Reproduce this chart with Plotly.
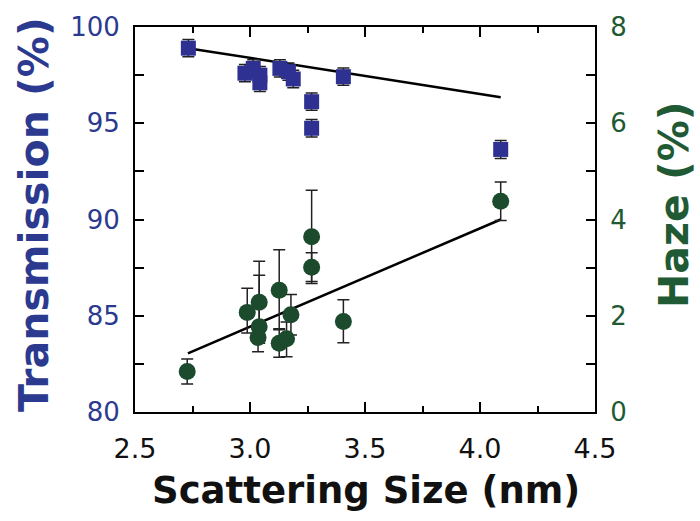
import plotly.graph_objects as go

# Transmission data (left axis)
trans_x = [2.732, 2.978, 3.014, 3.043, 3.043, 3.13, 3.167, 3.188, 3.268, 3.268, 3.406, 4.09]
trans_y = [98.9, 97.6, 97.85, 97.5, 97.1, 97.85, 97.68, 97.3, 96.12, 94.74, 97.42, 93.64]
trans_err = [0.45, 0.45, 0.45, 0.45, 0.45, 0.45, 0.45, 0.45, 0.45, 0.45, 0.45, 0.47]

# Haze data (right axis)
haze_x = [2.727, 2.988, 3.04, 3.04, 3.035, 3.127, 3.127, 3.159, 3.178, 3.268, 3.268, 3.406, 4.09]
haze_y = [0.84, 2.07, 2.28, 1.77, 1.55, 2.53, 1.43, 1.52, 2.02, 3.64, 3.01, 1.88, 4.38]
haze_err_plus = [0.26, 0.5, 0.85, 1.07, 0.3, 0.84, 0.3, 0.35, 0.42, 0.97, 0.3, 0.45, 0.4]
haze_err_minus = [0.26, 0.43, 0.85, 0.3, 0.3, 0.82, 0.29, 0.37, 0.42, 0.97, 0.3, 0.44, 0.4]

# Linear fit lines
fit_x = [2.73, 4.09]
trans_fit = [98.9, 96.35]
haze_fit = [1.22, 4.0]

# Tick labels
x_ticks = [2.5, 3.0, 3.5, 4.0, 4.5]
x_ticktext = ["2.5", "3.0", "3.5", "4.0", "4.5"]
y1_ticks = [80, 85, 90, 95, 100]
y2_ticks = [0, 2, 4, 6, 8]

BLUE = "#2e3192"
BLUE_TXT = "#2b3a8f"
GREEN = "#1b4a2c"
GREEN_TXT = "#1f5a34"
FONT = "DejaVu Sans"

fig = go.Figure()

fig.add_trace(go.Scatter(x=fit_x, y=trans_fit, mode="lines",
                         line=dict(color="black", width=2.5), showlegend=False))
fig.add_trace(go.Scatter(x=fit_x, y=haze_fit, mode="lines", yaxis="y2",
                         line=dict(color="black", width=2.5), showlegend=False))

fig.add_trace(go.Scatter(
    x=haze_x, y=haze_y, mode="markers", yaxis="y2", showlegend=False,
    marker=dict(symbol="circle", size=17, color=GREEN, line=dict(width=0)),
    error_y=dict(type="data", array=haze_err_plus, arrayminus=haze_err_minus,
                 color="#222222", thickness=1.5, width=6)))

fig.add_trace(go.Scatter(
    x=trans_x, y=trans_y, mode="markers", showlegend=False,
    marker=dict(symbol="square", size=15, color=BLUE, line=dict(width=0)),
    error_y=dict(type="data", array=trans_err, color="#222222",
                 thickness=1.5, width=6)))

fig.update_layout(
    width=700, height=521,
    margin=dict(l=135, r=105, t=27, b=109),
    paper_bgcolor="white", plot_bgcolor="white",
    font=dict(family=FONT),
    xaxis=dict(range=[2.5, 4.5], tickvals=x_ticks, ticktext=x_ticktext,
               ticks="inside", ticklen=10, tickwidth=2, tickcolor="black",
               minor=dict(dtick=0.25, ticks="inside", ticklen=6, tickwidth=2, tickcolor="black"),
               showline=True, linewidth=2, linecolor="black", mirror="ticks",
               showgrid=False, zeroline=False, ticklabelstandoff=12,
               tickfont=dict(family=FONT, size=27, color="#111111")),
    yaxis=dict(range=[80, 100], tickvals=y1_ticks,
               ticks="inside", ticklen=9, tickwidth=2, tickcolor="black",
               minor=dict(dtick=2.5, ticks="inside", ticklen=9, tickwidth=2, tickcolor="black"),
               showline=True, linewidth=2, linecolor="black", mirror=False,
               showgrid=False, zeroline=False, ticklabelstandoff=8,
               tickfont=dict(family=FONT, size=26, color=BLUE_TXT)),
    yaxis2=dict(range=[0, 8], tickvals=y2_ticks, overlaying="y", side="right",
                ticks="inside", ticklen=9, tickwidth=2, tickcolor="black",
                minor=dict(dtick=1, ticks="inside", ticklen=9, tickwidth=2, tickcolor="black"),
                showline=True, linewidth=2, linecolor="black",
                showgrid=False, zeroline=False, ticklabelstandoff=8,
                tickfont=dict(family=FONT, size=26, color=GREEN_TXT)),
    annotations=[
        dict(text="Scattering Size (nm)", xref="paper", yref="paper",
             x=0.502, y=-0.205, xanchor="center", yanchor="middle", showarrow=False,
             font=dict(family=FONT, size=37, weight="bold", color="#111111")),
        dict(text="Transmission (%)", xref="paper", yref="paper", textangle=-90,
             x=-0.2196, y=0.514, xanchor="center", yanchor="middle", showarrow=False,
             font=dict(family=FONT, size=41, weight="bold", color=BLUE_TXT)),
        dict(text="Haze (%)", xref="paper", yref="paper", textangle=-90,
             x=1.1717, y=0.5377, xanchor="center", yanchor="middle", showarrow=False,
             font=dict(family=FONT, size=41, weight="bold", color=GREEN_TXT)),
    ],
)

fig.write_html("out.html")
